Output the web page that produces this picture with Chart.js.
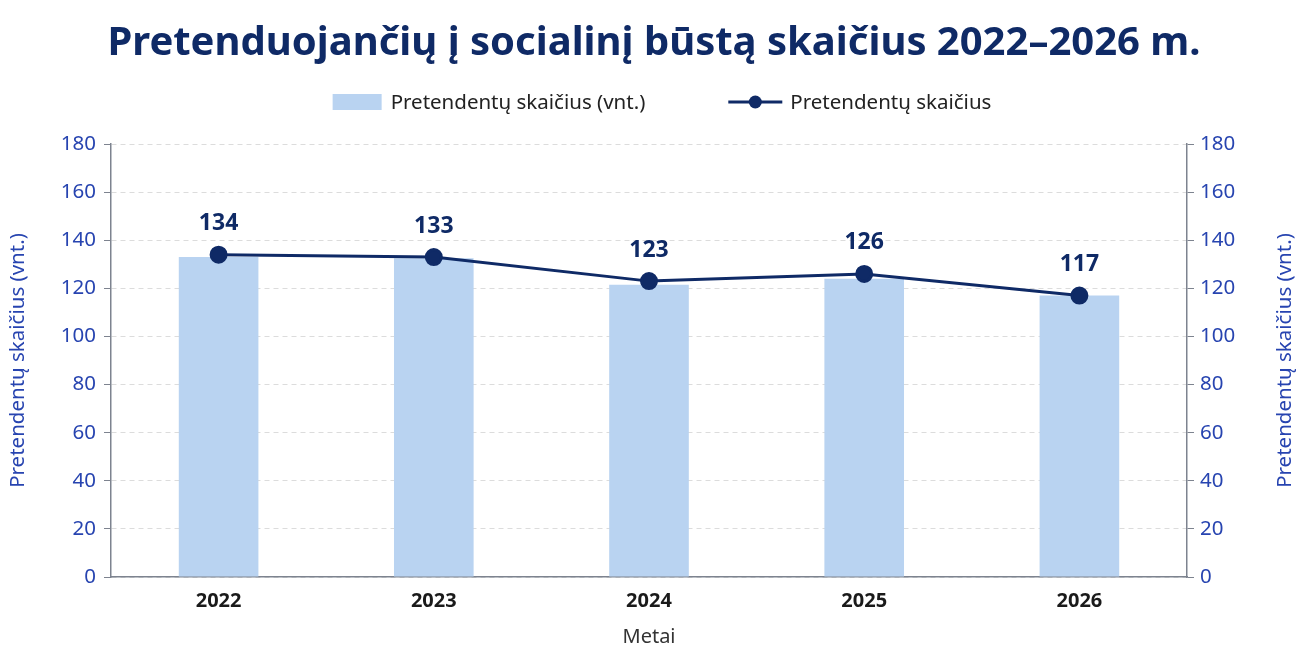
<!DOCTYPE html>
<html lang="lt">
<head>
<meta charset="UTF-8">
<title>Pretenduojančių į socialinį būstą skaičius 2022–2026 m.</title>
<script src="https://cdn.jsdelivr.net/npm/chart.js@4.4.1/dist/chart.umd.min.js"></script>
<style>
    html, body { margin: 0; padding: 0; background: #fff; }
    .wrap { width: 1308px; height: 651px; position: relative; }
</style>
</head>
<body>
<div class="wrap"><canvas id="grafikas"></canvas></div>
<script>
// Duomenys
const metai = ['2022', '2023', '2024', '2025', '2026'];
const stulpeliai = [133, 132.5, 121.5, 124, 117];   // stulpelių aukščiai
const linija = [134, 133, 123, 126, 117];           // linijos taškai (su etiketėmis)
const yMin = 0;
const yMax = 180;
const yZingsnis = 20;

const pavadinimas = 'Pretenduojančių į socialinį būstą skaičius 2022–2026 m.';
const ySantrauka = 'Pretendentų skaičius (vnt.)';
const xSantrauka = 'Metai';

const SRIFTAS = '"Noto Sans", "Open Sans", sans-serif';
const MELYNA = '#2744b0';
const TAMSI = '#0f2a66';
const PILKA = '#7d838f';

// Legenda, dešinės ašies pavadinimas ir reikšmių etiketės
const papildiniai = {
    id: 'papildiniai',
    afterDraw(chart) {
        const ctx = chart.ctx;
        const ds = chart.data.datasets;
        ctx.save();

        // legenda
        ctx.font = '20.5px ' + SRIFTAS;
        ctx.textBaseline = 'middle';
        ctx.textAlign = 'left';
        const w1 = ctx.measureText(ds[0].label).width;
        const w2 = ctx.measureText(ds[1].label).width;
        const viso = 49 + 9 + w1 + 83 + 54 + 8 + w2;
        let x = 662 - viso / 2;
        const y = 102;
        ctx.fillStyle = ds[0].backgroundColor;
        ctx.fillRect(x, y - 8, 49, 16);
        x += 58;
        ctx.fillStyle = '#222';
        ctx.fillText(ds[0].label, x, y + 1);
        x += w1 + 83;
        ctx.strokeStyle = ds[1].borderColor;
        ctx.lineWidth = 3;
        ctx.beginPath();
        ctx.moveTo(x, y);
        ctx.lineTo(x + 54, y);
        ctx.stroke();
        ctx.fillStyle = ds[1].borderColor;
        ctx.beginPath();
        ctx.arc(x + 27, y, 6.5, 0, Math.PI * 2);
        ctx.fill();
        x += 62;
        ctx.fillStyle = '#222';
        ctx.fillText(ds[1].label, x, y + 1);

        // dešinės ašies pavadinimas
        const ca = chart.chartArea;
        ctx.save();
        ctx.translate(1285, (ca.top + ca.bottom) / 2);
        ctx.rotate(-Math.PI / 2);
        ctx.textAlign = 'center';
        ctx.fillStyle = MELYNA;
        ctx.fillText(ySantrauka, 0, 0);
        ctx.restore();

        // reikšmių etiketės virš taškų
        const meta = chart.getDatasetMeta(1);
        ctx.font = 'bold 23px ' + SRIFTAS;
        ctx.textAlign = 'center';
        ctx.fillStyle = TAMSI;
        meta.data.forEach((p, i) => {
            ctx.fillText(String(linija[i]), p.x, p.y - 31);
        });
        ctx.restore();
    }
};

const fonas = {
    id: 'fonas',
    beforeDraw(chart) {
        const ctx = chart.ctx;
        ctx.save();
        ctx.fillStyle = '#fff';
        ctx.fillRect(0, 0, chart.width, chart.height);
        ctx.restore();
    }
};

const ctx = document.getElementById('grafikas').getContext('2d');
new Chart(ctx, {
    type: 'bar',
    data: {
        labels: metai,
        datasets: [
            {
                type: 'bar',
                label: 'Pretendentų skaičius (vnt.)',
                data: stulpeliai,
                backgroundColor: '#b9d3f1',
                barPercentage: 0.37,
                categoryPercentage: 1,
                yAxisID: 'y',
                order: 2
            },
            {
                type: 'line',
                label: 'Pretendentų skaičius',
                data: linija,
                borderColor: TAMSI,
                backgroundColor: TAMSI,
                borderWidth: 3,
                pointRadius: 7.5,
                pointHoverRadius: 7.5,
                tension: 0,
                yAxisID: 'y',
                order: 1
            }
        ]
    },
    options: {
        responsive: true,
        maintainAspectRatio: false,
        animation: false,
        layout: { padding: { left: 0, right: 0, top: 0, bottom: 0 } },
        plugins: {
            legend: { display: false },
            tooltip: { enabled: false },
            title: {
                display: true,
                text: pavadinimas,
                color: TAMSI,
                font: { family: SRIFTAS, size: 40, weight: 'bold' },
                padding: { top: 20, bottom: 76 }
            }
        },
        scales: {
            x: {
                grid: { display: false, drawTicks: false },
                border: { color: PILKA, width: 1.5 },
                ticks: {
                    color: '#1a1a1a',
                    font: { family: SRIFTAS, size: 20, weight: 'bold' },
                    padding: 12
                },
                title: {
                    display: true,
                    text: xSantrauka,
                    color: '#333',
                    font: { family: SRIFTAS, size: 20 },
                    padding: { top: 0, bottom: 2 }
                }
            },
            y: {
                position: 'left',
                min: yMin,
                max: yMax,
                afterFit(scale) { scale.width = 111; },
                ticks: {
                    stepSize: yZingsnis,
                    color: MELYNA,
                    font: { family: SRIFTAS, size: 20.5 },
                    padding: 8
                },
                grid: {
                    color: '#dcdcdc',
                    tickColor: PILKA,
                    tickLength: 7,
                    tickBorderDash: []
                },
                border: { color: PILKA, width: 1.5, dash: [5, 4] },
                title: {
                    display: true,
                    text: ySantrauka,
                    color: MELYNA,
                    font: { family: SRIFTAS, size: 20.5 },
                    padding: { top: 6, bottom: 6 }
                }
            },
            y1: {
                position: 'right',
                min: yMin,
                max: yMax,
                afterFit(scale) { scale.width = 121; },
                ticks: {
                    stepSize: yZingsnis,
                    color: MELYNA,
                    font: { family: SRIFTAS, size: 20.5 },
                    padding: 6
                },
                grid: {
                    drawOnChartArea: false,
                    tickColor: PILKA,
                    tickLength: 7
                },
                border: { color: PILKA, width: 1.5 }
            }
        }
    },
    plugins: [fonas, papildiniai]
});
</script>
</body>
</html>
